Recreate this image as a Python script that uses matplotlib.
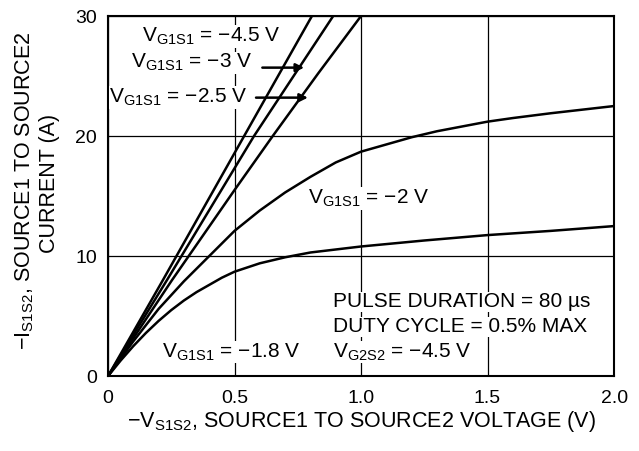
import matplotlib
matplotlib.use("Agg")
import matplotlib.pyplot as plt
import numpy as np

plt.rcParams['font.family'] = ['Liberation Sans', 'DejaVu Sans']
plt.rcParams['mathtext.fontset'] = 'custom'
plt.rcParams['mathtext.rm'] = 'Liberation Sans'
plt.rcParams['mathtext.it'] = 'Liberation Sans:italic'
plt.rcParams['mathtext.default'] = 'regular'

# Curves (x: -V_S1S2 in V, y: -I_S1S2 in A)
x_45 = [0, 0.217, 0.538, 0.806]
y_45 = [0, 8, 20, 30]
x_30 = [0, 0.233, 0.577, 0.89]
y_30 = [0, 8, 20, 30]
x_25 = [0, 0.253, 0.5, 0.651, 0.83, 1.0]
y_25 = [0, 8, 15.5, 20, 25.2, 30]
x_20 = [0, 0.1, 0.2, 0.3, 0.4, 0.5, 0.6, 0.7, 0.8, 0.9, 1.0, 1.1, 1.2, 1.3, 1.4, 1.5, 1.6, 1.75, 2.0]
y_20 = [0, 2.9, 5.6, 7.9, 10.0, 12.1, 13.8, 15.3, 16.6, 17.8, 18.7, 19.3, 19.9, 20.4, 20.8, 21.2, 21.5, 21.9, 22.5]
x_18 = [0, 0.05, 0.1, 0.15, 0.2, 0.25, 0.3, 0.35, 0.4, 0.45, 0.5, 0.6, 0.7, 0.8, 1.0, 1.25, 1.5, 1.75, 2.0]
y_18 = [0, 1.3, 2.5, 3.6, 4.6, 5.5, 6.3, 7.0, 7.6, 8.2, 8.7, 9.4, 9.9, 10.3, 10.8, 11.3, 11.75, 12.1, 12.5]

xticks = [0, 0.5, 1.0, 1.5, 2.0]
xticklabels = ["0", "0.5", "1.0", "1.5", "2.0"]
yticks = [0, 10, 20, 30]
yticklabels = ["0", "10", "20", "30"]

fig = plt.figure(figsize=(6.39, 4.51), dpi=100)
ax = fig.add_axes([0.169, 0.166, 0.792, 0.7985])
ax.set_xlim(0, 2.0)
ax.set_ylim(0, 30)
ax.set_xticks(xticks)
ax.set_xticklabels(xticklabels)
ax.set_yticks(yticks)
ax.set_yticklabels(yticklabels)
ax.tick_params(length=0, labelsize=14, colors='black')
ax.tick_params(axis='x', pad=10)
ax.tick_params(axis='y', pad=8)
ax.grid(True, color='black', linewidth=0.9)
ax.set_axisbelow(True)
for s in ax.spines.values():
    s.set_linewidth(1.5)
    s.set_color('black')

for xs, ys in [(x_45, y_45), (x_30, y_30), (x_25, y_25), (x_20, y_20), (x_18, y_18)]:
    ax.plot(xs, ys, color='black', linewidth=1.8, clip_on=True, zorder=3,
            solid_joinstyle='round')

bb = dict(facecolor='white', edgecolor='none', pad=0.5)
fs = 15
ax.text(0.41, 28.3, "V$_{G1S1}$ = \u22124.5 V", fontsize=fs, ha='center', va='center', bbox=bb, zorder=4)
ax.text(0.09, 26.1, "V$_{G1S1}$ = \u22123 V", fontsize=fs, ha='left', va='center', bbox=bb, zorder=4)
ax.text(0.005, 23.2, "V$_{G1S1}$ = \u22122.5 V", fontsize=fs, ha='left', va='center', bbox=bb, zorder=4)
ax.annotate("", xy=(0.775, 25.7), xytext=(0.61, 25.7),
            arrowprops=dict(arrowstyle='-|>', color='black', lw=1.8, mutation_scale=12, shrinkA=0, shrinkB=0), zorder=5)
ax.annotate("", xy=(0.79, 23.2), xytext=(0.585, 23.2),
            arrowprops=dict(arrowstyle='-|>', color='black', lw=1.8, mutation_scale=12, shrinkA=0, shrinkB=0), zorder=5)
ax.text(1.03, 14.8, "V$_{G1S1}$ = \u22122 V", fontsize=fs, ha='center', va='center', bbox=bb, zorder=4)
ax.text(0.215, 2.0, "V$_{G1S1}$ = \u22121.8 V", fontsize=fs, ha='left', va='center', bbox=bb, zorder=4)
ax.text(0.889, 6.2, "PULSE DURATION = 80 \u00b5s", fontsize=fs, ha='left', va='center', bbox=bb, zorder=4)
ax.text(0.889, 4.1, "DUTY CYCLE = 0.5% MAX", fontsize=fs, ha='left', va='center', bbox=bb, zorder=4)
ax.text(0.889, 2.0, "V$_{G2S2}$ = \u22124.5 V", fontsize=fs, ha='left', va='center', bbox=bb, zorder=4)

ax.set_xlabel("\u2212V$_{S1S2}$, SOURCE1 TO SOURCE2 VOLTAGE (V)", fontsize=15.5, labelpad=1.5)
fig.text(0.039, 0.577, "\u2212I$_{S1S2}$, SOURCE1 TO SOURCE2", fontsize=15.5, rotation=90, ha='center', va='center')
fig.text(0.077, 0.594, "CURRENT (A)", fontsize=15.5, rotation=90, ha='center', va='center')

fig.savefig("out.png", dpi=100)
